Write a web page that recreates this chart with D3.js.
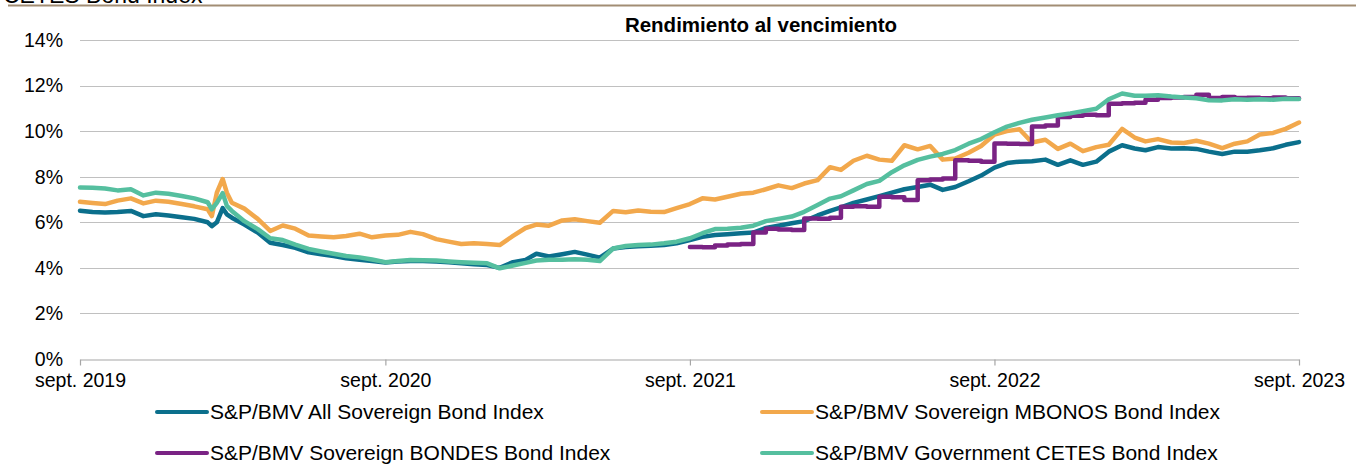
<!DOCTYPE html>
<html>
<head>
<meta charset="utf-8">
<script src="https://cdn.jsdelivr.net/npm/d3@7"></script>
<style>
  body { margin: 0; background: #fff; }
  svg text { font-family: "Liberation Sans", Arial, sans-serif; fill: #000; }
</style>
</head>
<body>
<svg id="chart"></svg>
<script>
// Fechas (quincenales, con detalle en feb. 2020)
const dates = [
  "2019-09-01","2019-09-16","2019-10-01","2019-10-16","2019-11-01","2019-11-16","2019-12-01","2019-12-16","2020-01-01","2020-01-16","2020-02-01",
  "2020-02-06","2020-02-12","2020-02-19","2020-02-24",
  "2020-03-01","2020-03-16","2020-04-01","2020-04-16","2020-05-01","2020-05-16","2020-06-01","2020-06-16","2020-07-01","2020-07-16","2020-08-01","2020-08-16",
  "2020-09-01","2020-09-16","2020-10-01","2020-10-16","2020-11-01","2020-11-16","2020-12-01","2020-12-16","2021-01-01","2021-01-16","2021-02-01","2021-02-16",
  "2021-03-01","2021-03-16","2021-04-01","2021-04-16","2021-05-01","2021-05-16","2021-06-01","2021-06-16","2021-07-01","2021-07-16","2021-08-01","2021-08-16",
  "2021-09-01","2021-09-16","2021-10-01","2021-10-16","2021-11-01","2021-11-16","2021-12-01","2021-12-16","2022-01-01","2022-01-16","2022-02-01","2022-02-16",
  "2022-03-01","2022-03-16","2022-04-01","2022-04-16","2022-05-01","2022-05-16","2022-06-01","2022-06-16","2022-07-01","2022-07-16","2022-08-01","2022-08-16",
  "2022-09-01","2022-09-16","2022-10-01","2022-10-16","2022-11-01","2022-11-16","2022-12-01","2022-12-16","2023-01-01","2023-01-16","2023-02-01","2023-02-16",
  "2023-03-01","2023-03-16","2023-04-01","2023-04-16","2023-05-01","2023-05-16","2023-06-01","2023-06-16","2023-07-01","2023-07-16","2023-08-01","2023-08-16",
  "2023-09-01"
];

const allSovereign = [
  6.51,6.45,6.43,6.45,6.50,6.27,6.35,6.30,6.22,6.15,6.00,
  5.83,6.00,6.62,6.35,
  6.20,5.90,5.55,5.10,5.00,4.88,4.68,4.60,4.52,4.42,4.36,4.30,
  4.24,4.28,4.30,4.30,4.28,4.25,4.20,4.16,4.12,4.00,4.25,4.35,4.62,4.50,4.60,4.70,4.58,4.45,4.85,4.92,4.95,4.97,5.00,5.08,
  5.22,5.36,5.44,5.48,5.52,5.55,5.75,5.85,5.96,6.05,6.30,6.50,6.65,6.85,7.00,7.15,7.30,7.45,7.55,7.65,7.42,7.55,7.80,8.05,
  8.40,8.60,8.66,8.68,8.75,8.52,8.72,8.52,8.66,9.10,9.38,9.24,9.16,9.30,9.24,9.25,9.22,9.10,9.00,9.10,9.10,9.16,9.25,9.40,
  9.52
];

const mbonos = [
  6.90,6.85,6.80,6.95,7.05,6.83,6.95,6.90,6.80,6.70,6.57,
  6.27,7.30,7.90,7.30,
  6.86,6.60,6.15,5.62,5.86,5.72,5.42,5.38,5.34,5.40,5.50,5.34,
  5.42,5.45,5.58,5.48,5.26,5.15,5.05,5.08,5.05,5.00,5.40,5.75,5.90,5.85,6.08,6.13,6.05,5.98,6.50,6.44,6.52,6.46,6.45,6.62,
  6.80,7.05,7.00,7.12,7.25,7.30,7.45,7.62,7.50,7.70,7.85,8.42,8.30,8.70,8.92,8.75,8.70,9.38,9.20,9.35,8.75,8.80,9.05,9.35,
  9.85,10.00,10.08,9.50,9.62,9.22,9.45,9.12,9.30,9.40,10.10,9.72,9.55,9.65,9.50,9.48,9.58,9.45,9.25,9.45,9.55,9.85,9.92,10.10,
  10.38
];

// BONDES empieza en sept. 2021
const bondesStart = "2021-09-01";
const bondes = [
  4.92,4.90,4.98,5.02,5.05,5.55,5.72,5.68,5.66,6.17,6.15,6.20,6.68,6.70,6.68,7.12,7.10,6.98,7.85,7.88,7.92,8.72,8.70,8.66,
  9.46,9.45,9.44,10.20,10.25,10.62,10.68,10.72,10.70,11.20,11.22,11.25,11.38,11.46,11.48,11.50,11.60,11.46,11.50,11.45,11.47,11.44,11.48,11.44,
  11.43
];

const cetes = [
  7.53,7.52,7.48,7.40,7.45,7.18,7.30,7.25,7.15,7.05,6.88,
  6.57,6.85,7.28,6.72,
  6.50,6.05,5.70,5.30,5.22,5.02,4.83,4.72,4.62,4.52,4.46,4.37,
  4.25,4.30,4.34,4.33,4.32,4.28,4.25,4.22,4.20,3.98,4.10,4.22,4.32,4.36,4.36,4.38,4.36,4.30,4.85,4.96,5.00,5.02,5.08,5.15,
  5.30,5.52,5.70,5.72,5.76,5.85,6.05,6.15,6.25,6.46,6.76,7.04,7.14,7.40,7.68,7.82,8.20,8.50,8.74,8.88,9.00,9.17,9.45,9.65,
  9.95,10.20,10.36,10.50,10.60,10.70,10.78,10.88,10.98,11.40,11.65,11.55,11.55,11.58,11.52,11.48,11.44,11.36,11.35,11.40,11.38,11.40,11.38,11.42,
  11.41
];

const seriesNames = [
  "S&P/BMV All Sovereign Bond Index",
  "S&P/BMV Sovereign MBONOS Bond Index",
  "S&P/BMV Sovereign BONDES Bond Index",
  "S&P/BMV Government CETES Bond Index"
];
const seriesColors = ["#0b6f8c", "#f2a84c", "#7a2384", "#55bf9f"];
const yTicks = [0, 2, 4, 6, 8, 10, 12, 14];
const xTickDates = ["2019-09-01", "2020-09-01", "2021-09-01", "2022-09-01", "2023-09-01"];
const chartTitle = "Rendimiento al vencimiento";
const topText = "CETES Bond Index";

// ---------- layout ----------
const W = 1356, H = 466;
const svg = d3.select("#chart").attr("width", W).attr("height", H);
svg.append("rect").attr("width", W).attr("height", H).attr("fill", "#fff");

const parse = d3.timeParse("%Y-%m-%d");
const dateObjs = dates.map(parse);

const x = d3.scaleTime()
  .domain([parse(xTickDates[0]), parse(xTickDates[xTickDates.length - 1])])
  .range([80, 1299]);
const y = d3.scaleLinear().domain([0, 14]).range([359, 40]);

// cropped header above the chart
svg.append("text")
  .attr("x", 3).attr("y", 3)
  .style("font-size", "23px")
  .text(topText);
svg.append("line")
  .attr("x1", 8).attr("x2", W)
  .attr("y1", 5.5).attr("y2", 5.5)
  .attr("stroke", "#a28d74").attr("stroke-width", 2);

// title
svg.append("text")
  .attr("x", 761).attr("y", 32)
  .attr("text-anchor", "middle")
  .style("font-size", "20.5px").style("font-weight", "bold")
  .text(chartTitle);

// gridlines
svg.append("g").selectAll("line")
  .data(yTicks.filter(d => d > 0))
  .join("line")
  .attr("x1", x.range()[0]).attr("x2", x.range()[1])
  .attr("y1", d => Math.round(y(d)) + 0.5).attr("y2", d => Math.round(y(d)) + 0.5)
  .attr("stroke", "#c0c0c0").attr("stroke-width", 1.2);

// y labels
svg.append("g").selectAll("text")
  .data(yTicks)
  .join("text")
  .attr("x", 63)
  .attr("y", d => y(d))
  .attr("dy", "0.35em")
  .attr("text-anchor", "end")
  .style("font-size", "19.5px")
  .text(d => d + "%");

// x axis
const xAxis = d3.axisBottom(x)
  .tickValues(xTickDates.map(parse))
  .tickSize(6)
  .tickSizeOuter(0)
  .tickPadding(8)
  .tickFormat(d => "sept. " + d.getFullYear());

const gx = svg.append("g")
  .attr("transform", `translate(0, ${Math.round(y(0)) + 0.5})`)
  .call(xAxis);
gx.select(".domain").attr("stroke", "#a6a6a6").attr("stroke-width", 1.2);
gx.selectAll(".tick line").attr("stroke", "#a6a6a6").attr("stroke-width", 1.2);
gx.selectAll(".tick text")
  .style("font-size", "19.5px")
  .style("font-family", '"Liberation Sans", Arial, sans-serif')
  .attr("fill", "#000");

// ---------- lines ----------
const bondesDates = dateObjs.slice(dates.indexOf(bondesStart));
const seriesData = [
  { values: allSovereign.map((v, i) => ({ date: dateObjs[i], v })), curve: d3.curveLinear },
  { values: mbonos.map((v, i) => ({ date: dateObjs[i], v })), curve: d3.curveLinear },
  { values: bondes.map((v, i) => ({ date: bondesDates[i], v })), curve: d3.curveStepAfter },
  { values: cetes.map((v, i) => ({ date: dateObjs[i], v })), curve: d3.curveLinear }
];

seriesData.forEach((s, k) => {
  const line = d3.line()
    .x(d => x(d.date))
    .y(d => y(d.v))
    .curve(s.curve);
  svg.append("path")
    .datum(s.values)
    .attr("d", line)
    .attr("fill", "none")
    .attr("stroke", seriesColors[k])
    .attr("stroke-width", 4.5)
    .attr("stroke-linejoin", "round")
    .attr("stroke-linecap", "round");
});

// ---------- legend ----------
const legendPos = [
  { lx: 155, ly: 412 },
  { lx: 760, ly: 412 },
  { lx: 155, ly: 453 },
  { lx: 760, ly: 453 }
];
const legend = svg.append("g").selectAll("g")
  .data(seriesNames)
  .join("g")
  .attr("transform", (d, i) => `translate(${legendPos[i].lx}, ${legendPos[i].ly})`);

legend.append("line")
  .attr("x1", 2).attr("x2", 52)
  .attr("stroke", (d, i) => seriesColors[i])
  .attr("stroke-width", 4)
  .attr("stroke-linecap", "round");

legend.append("text")
  .attr("x", 55)
  .attr("dy", "0.35em")
  .style("font-size", "21px")
  .text(d => d);
</script>
</body>
</html>
